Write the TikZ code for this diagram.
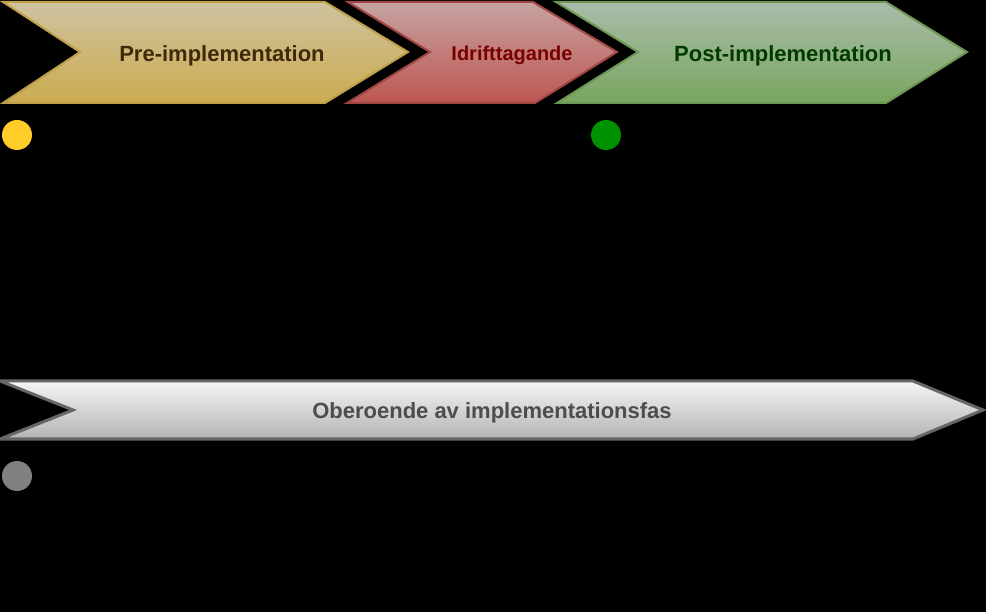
\documentclass[tikz,border=0pt]{standalone}
\usepackage{fontspec}
\setmainfont{Liberation Sans}
\begin{document}
\begin{tikzpicture}[x=1pt,y=-1pt,
  lbl/.style={font=\bfseries\fontsize{22}{26}\selectfont,inner sep=0pt,anchor=base},
  dot/.style={circle,minimum size=30pt,inner sep=0pt}]
\definecolor{ytop}{RGB}{206,194,160}
\definecolor{ybot}{RGB}{204,172,80}
\definecolor{ystr}{RGB}{190,160,75}
\definecolor{rtop}{RGB}{198,163,161}
\definecolor{rbot}{RGB}{190,86,82}
\definecolor{rstr}{RGB}{160,70,66}
\definecolor{gtop}{RGB}{170,188,170}
\definecolor{gbot}{RGB}{121,166,95}
\definecolor{gstr}{RGB}{110,150,85}
\definecolor{wtop}{RGB}{245,245,245}
\definecolor{wbot}{RGB}{180,180,180}
\definecolor{wstr}{RGB}{102,102,102}
\definecolor{ytxt}{RGB}{62,42,10}
\definecolor{rtxt}{RGB}{122,0,0}
\definecolor{gtxt}{RGB}{0,58,0}
\definecolor{wtxt}{RGB}{77,77,77}
\definecolor{ydot}{RGB}{255,204,40}
\definecolor{gdot}{RGB}{0,145,0}
\definecolor{xdot}{RGB}{128,128,128}
\fill[black] (0,0) rectangle (986,612);
\useasboundingbox (0,0) rectangle (986,612);
% phase arrows
\path[draw=ystr,line width=2pt,line join=miter,top color=ytop,bottom color=ybot]
  (3,2) -- (325,2) -- (408,52) -- (325,103) -- (3,103) -- (80,52) -- cycle;
\path[draw=rstr,line width=2pt,line join=miter,top color=rtop,bottom color=rbot]
  (348,2) -- (533,2) -- (617,52) -- (535,103) -- (347,103) -- (430,52) -- cycle;
\path[draw=gstr,line width=2pt,line join=miter,top color=gtop,bottom color=gbot]
  (556,2) -- (886,2) -- (967,52) -- (886,103) -- (557,103) -- (638,52) -- cycle;
\path[draw=wstr,line width=3pt,line join=miter,top color=wtop,bottom color=wbot]
  (0,381) -- (913,381) -- (983,410) -- (913,439) -- (0,439) -- (73,410) -- cycle;
\node[lbl,text=ytxt] (pre) at (222,61.5) {Pre-implementation};
\node[lbl,text=rtxt,font=\bfseries\fontsize{20}{24}\selectfont] (idr) at (512,60.5) {Idrifttagande};
\node[lbl,text=gtxt] (post) at (783,61.5) {Post-implementation};
\node[lbl,text=wtxt] (obe) at (492,418) {Oberoende av implementationsfas};
\node[dot,fill=ydot] (d1) at (17,135) {};
\node[dot,fill=gdot] (d2) at (606,135) {};
\node[dot,fill=xdot] (d3) at (17,476) {};
\end{tikzpicture}
\end{document}
